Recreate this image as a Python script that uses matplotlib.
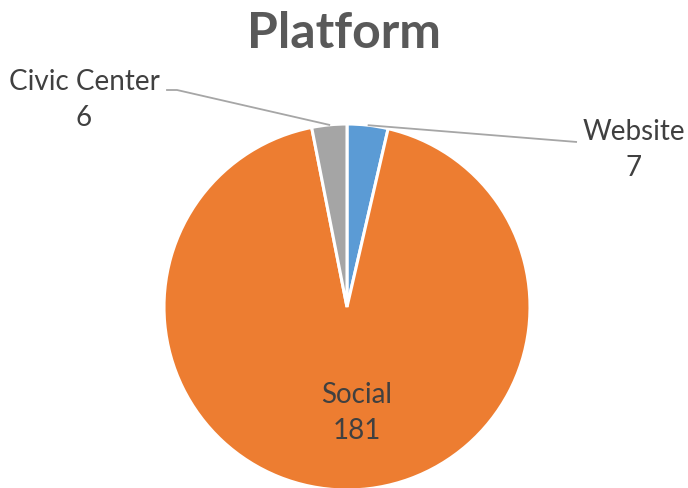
import numpy as np
import matplotlib
matplotlib.use("Agg")
import matplotlib.pyplot as plt

categories = ["Website", "Social", "Civic Center"]
values = [7, 181, 6]
colors = ["#5B9BD5", "#ED7D31", "#A5A5A5"]
title = "Platform"

W, H = 688, 488
fig = plt.figure(figsize=(W / 100, H / 100), dpi=100)
ax = fig.add_axes([0, 0, 1, 1])

cx, cy, R = 347, H - 307, 183
wedges, _ = ax.pie(values, colors=colors, startangle=90, counterclock=False,
                   center=(cx, cy), radius=R,
                   wedgeprops=dict(edgecolor="white", linewidth=2.2))
ax.set_xlim(0, W)
ax.set_ylim(0, H)
ax.set_aspect("equal")
ax.axis("off")

font = ["Lato", "DejaVu Sans"]
lab_color = "#404040"
fs = 20
ls = 1.5

fig.text(0.5, 1 - 33 / H, title, ha="center", va="center", fontsize=36,
         fontweight="bold", color="#595959", family=font)

def mid_point(w, r):
    a = np.deg2rad((w.theta1 + w.theta2) / 2)
    return cx + r * np.cos(a), cy + r * np.sin(a)

line_c = "#A6A6A6"
# Website (outside right)
px, py = mid_point(wedges[0], R)
ax.plot([px, 577], [py, H - 142], color=line_c, lw=1.3, solid_capstyle="butt")
ax.text(634, H - 150, f"{categories[0]}\n{values[0]}", ha="center", va="center",
        fontsize=fs, color=lab_color, family=font, linespacing=ls)

# Civic Center (outside left)
px, py = mid_point(wedges[2], R)
ax.plot([167, 177, px], [H - 90, H - 90, py], color=line_c, lw=1.3)
ax.text(84, H - 100, f"{categories[2]}\n{values[2]}", ha="center", va="center",
        fontsize=fs, color=lab_color, family=font, linespacing=ls)

# Social (inside)
ax.text(357, H - 413, f"{categories[1]}\n{values[1]}", ha="center", va="center",
        fontsize=fs, color=lab_color, family=font, linespacing=ls)

fig.savefig("out.png", dpi=100, facecolor="white")
